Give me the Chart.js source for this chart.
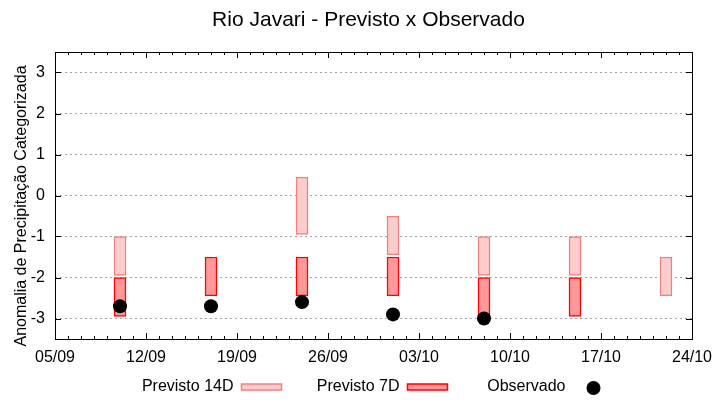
<!DOCTYPE html>
<html lang="pt-BR">
<head>
<meta charset="UTF-8">
<title>Rio Javari - Previsto x Observado</title>
<script src="https://cdn.jsdelivr.net/npm/chart.js@4"></script>
<style>
  html, body { margin: 0; padding: 0; background: #fff; }
</style>
</head>
<body>
<canvas id="grafico" width="720" height="400"></canvas>

<script>
// dados do grafico
const titulo = 'Rio Javari - Previsto x Observado';
const tituloEixoY = 'Anomalia de Precipitação Categorizada';
const rotulosX = ['05/09', '12/09', '19/09', '26/09', '03/10', '10/10', '17/10', '24/10'];
const rotulosY = [-3, -2, -1, 0, 1, 2, 3];
const datas = ['10/09', '17/09', '24/09', '01/10', '08/10', '15/10', '22/10'];
const prev14Min = [-1.95, null, -0.95, -1.45, -1.95, -1.95, -2.45];
const prev14Max = [-1, null, 0.45, -0.5, -1, -1, -1.5];
const prev7Min = [-2.95, -2.45, -2.45, -2.45, -2.95, -2.95, null];
const prev7Max = [-2, -1.5, -1.5, -1.5, -2, -2, null];
const observado = [-2.7, -2.7, -2.6, -2.9, -3.0, null, null];

const fonte = '"Liberation Sans", Arial, sans-serif';

// dias desde o primeiro rotulo (05/09)
function dia(s) {
    const [d, m] = s.split('/').map(Number);
    const [d0, m0] = rotulosX[0].split('/').map(Number);
    return Math.round((Date.UTC(2023, m - 1, d) - Date.UTC(2023, m0 - 1, d0)) / 86400000);
}

function barras(mins, maxs) {
    const out = [];
    datas.forEach((d, i) => {
        if (mins[i] !== null) out.push({ x: dia(d), y: [mins[i], maxs[i]] });
    });
    return out;
}

const pontosObs = [];
datas.forEach((d, i) => {
    if (observado[i] !== null) pontosObs.push({ x: dia(d), y: observado[i] });
});

// plugin: moldura, ticks internos, titulo, titulo do eixo e legenda estilo gnuplot
const estiloGnuplot = {
    id: 'estiloGnuplot',
    afterDraw(chart) {
        const c = chart.ctx;
        const a = chart.chartArea;
        const sx = chart.scales.x, sy = chart.scales.y;
        c.save();
        c.strokeStyle = '#000';
        c.lineWidth = 1;
        c.strokeRect(a.left + 0.5, a.top + 0.5, a.right - a.left, a.bottom - a.top);

        // ticks x (um por dia, maiores a cada semana)
        c.beginPath();
        for (let v = sx.min; v <= sx.max; v++) {
            const px = Math.round(sx.getPixelForValue(v)) + 0.5;
            const len = (v % 7 === 0) ? 6 : 3;
            c.moveTo(px, a.bottom); c.lineTo(px, a.bottom - len);
            c.moveTo(px, a.top); c.lineTo(px, a.top + len);
        }
        rotulosY.forEach(v => {
            const py = Math.round(sy.getPixelForValue(v)) + 0.5;
            c.moveTo(a.left, py); c.lineTo(a.left + 6, py);
            c.moveTo(a.right, py); c.lineTo(a.right - 6, py);
        });
        c.stroke();

        // titulo
        const cx = (a.left + a.right) / 2;
        c.fillStyle = '#000';
        c.font = '21px ' + fonte;
        c.textAlign = 'center';
        c.textBaseline = 'middle';
        c.fillText(titulo, cx - 5, 20);

        // titulo do eixo y
        c.save();
        c.translate(22, 206);
        c.rotate(-Math.PI / 2);
        c.font = '16px ' + fonte;
        c.fillText(tituloEixoY, 0, 0);
        c.restore();

        // legenda
        c.font = '16px ' + fonte;
        const col = 166;
        const ds = chart.data.datasets;
        const legY = 387;
        let x0 = cx - 132;
        ds.forEach(d => {
            c.textAlign = 'right';
            c.fillStyle = '#000';
            c.fillText(d.label, x0 - 8, legY);
            if (d.type === 'line') {
                c.beginPath();
                c.arc(x0 + 20, legY + 1, 7, 0, Math.PI * 2);
                c.fillStyle = d.pointBackgroundColor;
                c.fill();
            } else {
                c.fillStyle = d.backgroundColor;
                c.fillRect(x0, legY - 3, 40, 6);
                c.strokeStyle = d.borderColor;
                c.lineWidth = 1.5;
                c.strokeRect(x0, legY - 3, 40, 6);
            }
            x0 += col;
        });
        c.restore();
    }
};

new Chart(document.getElementById('grafico'), {
    type: 'bar',
    data: {
        datasets: [{
            label: 'Previsto 14D',
            data: barras(prev14Min, prev14Max),
            backgroundColor: '#ffcccc',
            borderColor: '#f08080',
            borderWidth: 1.5,
            borderSkipped: false,
            grouped: false,
            barThickness: 12,
            order: 2
        }, {
            label: 'Previsto 7D',
            data: barras(prev7Min, prev7Max),
            backgroundColor: '#ff9999',
            borderColor: '#ff0000',
            borderWidth: 1.5,
            borderSkipped: false,
            grouped: false,
            barThickness: 12,
            order: 1
        }, {
            type: 'line',
            label: 'Observado',
            data: pontosObs,
            showLine: false,
            pointRadius: 7,
            pointBackgroundColor: '#000',
            pointBorderWidth: 0,
            order: 0
        }]
    },
    options: {
        responsive: false,
        animation: false,
        layout: { padding: { top: 52, right: 28, left: 0, bottom: 0 } },
        plugins: {
            legend: { display: false },
            title: { display: false },
            tooltip: { enabled: false }
        },
        scales: {
            x: {
                type: 'linear',
                min: 0,
                max: dia(rotulosX[rotulosX.length - 1]),
                offset: false,
                grid: { display: false },
                border: { display: false },
                afterBuildTicks: s => { s.ticks = rotulosX.map(r => ({ value: dia(r) })); },
                afterFit: s => { s.height = 61; },
                ticks: {
                    callback: v => rotulosX.find(r => dia(r) === v) || '',
                    font: { size: 16, family: fonte },
                    color: '#000',
                    padding: 1,
                    maxRotation: 0,
                    autoSkip: false
                }
            },
            y: {
                min: -3.5,
                max: 3.5,
                afterBuildTicks: s => { s.ticks = rotulosY.map(v => ({ value: v })); },
                afterFit: s => { s.width = 55; },
                grid: { color: '#a0a0a0', lineWidth: 1, drawTicks: false },
                border: { display: false, dash: [2, 3] },
                ticks: {
                    font: { size: 16, family: fonte },
                    color: '#000',
                    padding: 10
                }
            }
        }
    },
    plugins: [estiloGnuplot]
});
</script>
</body>
</html>
